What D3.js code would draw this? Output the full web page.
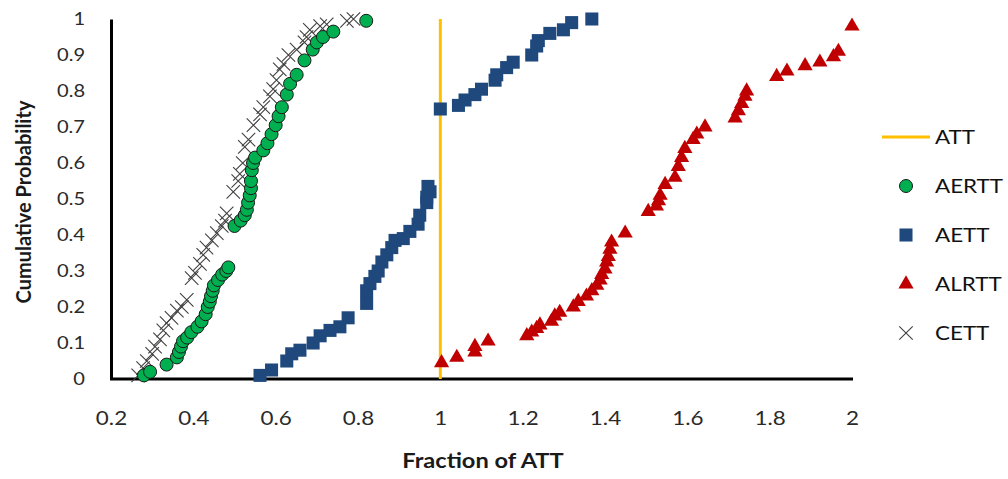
<!DOCTYPE html>
<html>
<head>
<meta charset="utf-8">
<script src="https://cdn.jsdelivr.net/npm/d3@7"></script>
<style>
  body { margin: 0; background: #fff; }
  text { font-family: Lato, "DejaVu Sans", sans-serif; }
  /* the original's lettering is a little wider than Lato */
  .wide { transform-box: fill-box; transform-origin: center; transform: scaleX(1.18); }
  .wide-r { transform-box: fill-box; transform-origin: right center; transform: scaleX(1.18); }
  .wide-l { transform-box: fill-box; transform-origin: left center; transform: scaleX(1.18); }
</style>
</head>
<body>
<div id="chart"></div>
<script>
// [fraction of ATT, cumulative probability]
const aertt = [
  [0.28,0.01],[0.295,0.02],[0.335,0.04],[0.36,0.06],[0.365,0.075],[0.37,0.09],[0.375,0.105],
  [0.385,0.115],[0.395,0.13],[0.41,0.145],[0.42,0.16],[0.43,0.18],[0.435,0.2],[0.44,0.215],
  [0.443,0.23],[0.447,0.245],[0.45,0.26],[0.46,0.275],[0.47,0.29],[0.48,0.3],[0.485,0.31],
  [0.5,0.425],[0.515,0.44],[0.525,0.455],[0.53,0.47],[0.533,0.49],[0.537,0.51],[0.54,0.53],
  [0.54,0.55],[0.542,0.58],[0.545,0.6],[0.55,0.615],[0.57,0.635],[0.58,0.655],[0.59,0.68],
  [0.6,0.705],[0.607,0.73],[0.615,0.755],[0.627,0.79],[0.635,0.82],[0.651,0.845],[0.67,0.885],
  [0.69,0.915],[0.7,0.935],[0.715,0.95],[0.74,0.965],[0.82,0.995]
]
const aett = [
  [0.562,0.01],[0.59,0.025],[0.627,0.05],[0.639,0.07],[0.659,0.08],[0.691,0.1],[0.708,0.12],
  [0.732,0.135],[0.756,0.145],[0.776,0.17],[0.821,0.21],[0.821,0.245],[0.829,0.265],[0.841,0.285],
  [0.849,0.3],[0.858,0.325],[0.87,0.345],[0.882,0.365],[0.89,0.385],[0.91,0.39],[0.926,0.41],
  [0.946,0.43],[0.95,0.455],[0.967,0.49],[0.967,0.505],[0.975,0.52],[0.97,0.535],
  [1.0,0.75],[1.044,0.76],[1.06,0.775],[1.084,0.79],[1.1,0.805],[1.133,0.83],[1.137,0.845],
  [1.161,0.865],[1.177,0.88],[1.222,0.9],[1.234,0.925],[1.238,0.94],[1.266,0.96],[1.299,0.97],
  [1.319,0.99],[1.368,1.0]
]
const alrtt = [
  [1.003,0.045],[1.04,0.06],[1.084,0.075],[1.084,0.09],[1.116,0.105],[1.21,0.12],[1.222,0.13],
  [1.234,0.14],[1.242,0.15],[1.27,0.16],[1.278,0.175],[1.29,0.185],[1.323,0.2],[1.335,0.215],
  [1.355,0.23],[1.368,0.245],[1.38,0.26],[1.388,0.275],[1.392,0.29],[1.4,0.305],[1.404,0.325],
  [1.408,0.34],[1.412,0.36],[1.416,0.38],[1.449,0.405],[1.505,0.465],[1.525,0.48],[1.53,0.495],
  [1.534,0.51],[1.546,0.54],[1.57,0.56],[1.578,0.59],[1.586,0.615],[1.594,0.64],[1.614,0.665],
  [1.623,0.68],[1.643,0.7],[1.716,0.725],[1.724,0.745],[1.732,0.765],[1.74,0.785],[1.744,0.8],
  [1.817,0.84],[1.842,0.855],[1.886,0.87],[1.922,0.88],[1.955,0.895],[1.967,0.91],[2.0,0.98]
]
const cett = [
  [0.266,0.01],[0.278,0.03],[0.287,0.05],[0.3,0.07],[0.307,0.09],[0.319,0.11],[0.327,0.135],
  [0.335,0.155],[0.347,0.17],[0.36,0.19],[0.372,0.2],[0.384,0.22],[0.396,0.28],[0.404,0.295],
  [0.416,0.32],[0.424,0.345],[0.432,0.365],[0.445,0.385],[0.457,0.405],[0.469,0.425],[0.477,0.44],
  [0.481,0.46],[0.497,0.52],[0.509,0.55],[0.513,0.57],[0.52,0.6],[0.525,0.645],[0.534,0.665],
  [0.546,0.705],[0.562,0.735],[0.57,0.755],[0.586,0.785],[0.594,0.805],[0.602,0.83],[0.61,0.86],
  [0.619,0.875],[0.631,0.9],[0.651,0.915],[0.67,0.935],[0.675,0.95],[0.683,0.97],[0.708,0.98],
  [0.724,0.985],[0.773,0.995],[0.789,1.0]
]
const attLine = [[1,0],[1,1]]
const xTicks = [0.2,0.4,0.6,0.8,1,1.2,1.4,1.6,1.8,2]
const yTicks = [0,0.1,0.2,0.3,0.4,0.5,0.6,0.7,0.8,0.9,1]
const legendNames = ["ATT","AERTT","AETT","ALRTT","CETT"]

const width = 1008, height = 479
const x = d3.scaleLinear().domain([0.2, 2]).range([111, 852])
const y = d3.scaleLinear().domain([0, 1]).range([379, 19])

const svg = d3.select("#chart").append("svg")
  .attr("width", width).attr("height", height)

// axes: lines only, labels without tick marks
const xAxis = svg.append("g").attr("transform", `translate(0,${y(0)})`)
  .call(d3.axisBottom(x).tickValues(xTicks).tickSize(0).tickPadding(33).tickFormat(d3.format("")))
xAxis.select(".domain").attr("stroke", "#000").attr("stroke-width", 3).attr("d", `M${x(0.2) - 1},0H${x(2) + 1}`)
xAxis.selectAll("text").attr("font-size", 19).attr("fill", "#2a2a2a").attr("class", "wide")

const yAxis = svg.append("g").attr("transform", `translate(${x(0.2)},0)`)
  .call(d3.axisLeft(y).tickValues(yTicks).tickSize(0).tickPadding(26).tickFormat(d3.format("")))
yAxis.select(".domain").attr("stroke", "#000").attr("stroke-width", 3)
yAxis.selectAll("text").attr("font-size", 17).attr("fill", "#2a2a2a").attr("class", "wide-r")

// ATT reference line
svg.append("path")
  .attr("d", d3.line().x(d => x(d[0])).y(d => y(d[1]))(attLine))
  .attr("stroke", "#ffc000").attr("stroke-width", 3).attr("fill", "none")

const sym = (type, size) => d3.symbol().type(type).size(size)()

svg.append("g").selectAll("path").data(cett).join("path")
  .attr("transform", d => `translate(${x(d[0])},${y(d[1])})`)
  .attr("d", sym(d3.symbolX, 120))
  .attr("stroke", "#404040").attr("stroke-width", 1.1).attr("fill", "none")

svg.append("g").selectAll("circle").data(aertt).join("circle")
  .attr("cx", d => x(d[0])).attr("cy", d => y(d[1])).attr("r", 6.5)
  .attr("fill", "#00b050").attr("stroke", "#1a1a1a").attr("stroke-width", 1)

svg.append("g").selectAll("path").data(aett).join("path")
  .attr("transform", d => `translate(${x(d[0])},${y(d[1])})`)
  .attr("d", sym(d3.symbolSquare, 170))
  .attr("fill", "#1f497d")

svg.append("g").selectAll("path").data(alrtt).join("path")
  .attr("transform", d => `translate(${x(d[0])},${y(d[1])})`)
  .attr("d", sym(d3.symbolTriangle, 100))
  .attr("fill", "#c00000")

// axis titles
svg.append("text").attr("x", 483).attr("y", 468).attr("text-anchor", "middle").attr("class", "wide")
  .attr("font-size", 20).attr("font-weight", "bold").attr("fill", "#1a1a1a").text("Fraction of ATT")
svg.append("text").attr("transform", "translate(31,202) rotate(-90)").attr("text-anchor", "middle")
  .attr("font-size", 20).attr("font-weight", "bold").attr("fill", "#1a1a1a").text("Cumulative Probability")

// legend
const legend = svg.append("g")
const ly = d3.scalePoint().domain(legendNames).range([137, 333])
legend.append("line").attr("x1", 882).attr("x2", 930).attr("y1", ly("ATT")).attr("y2", ly("ATT"))
  .attr("stroke", "#ffc000").attr("stroke-width", 3)
legend.append("circle").attr("cx", 906).attr("cy", ly("AERTT")).attr("r", 6.5)
  .attr("fill", "#00b050").attr("stroke", "#1a1a1a")
legend.append("path").attr("transform", `translate(906,${ly("AETT")})`)
  .attr("d", sym(d3.symbolSquare, 170)).attr("fill", "#1f497d")
legend.append("path").attr("transform", `translate(906,${ly("ALRTT")})`)
  .attr("d", sym(d3.symbolTriangle, 100)).attr("fill", "#c00000")
legend.append("path").attr("transform", `translate(906,${ly("CETT")})`)
  .attr("d", sym(d3.symbolX, 120)).attr("stroke", "#404040").attr("stroke-width", 1.1)
legend.selectAll("text").data(legendNames).join("text")
  .attr("x", 935).attr("y", d => ly(d)).attr("dy", "0.36em").attr("class", "wide-l")
  .attr("font-size", 19).attr("fill", "#111").text(d => d)
</script>
</body>
</html>
